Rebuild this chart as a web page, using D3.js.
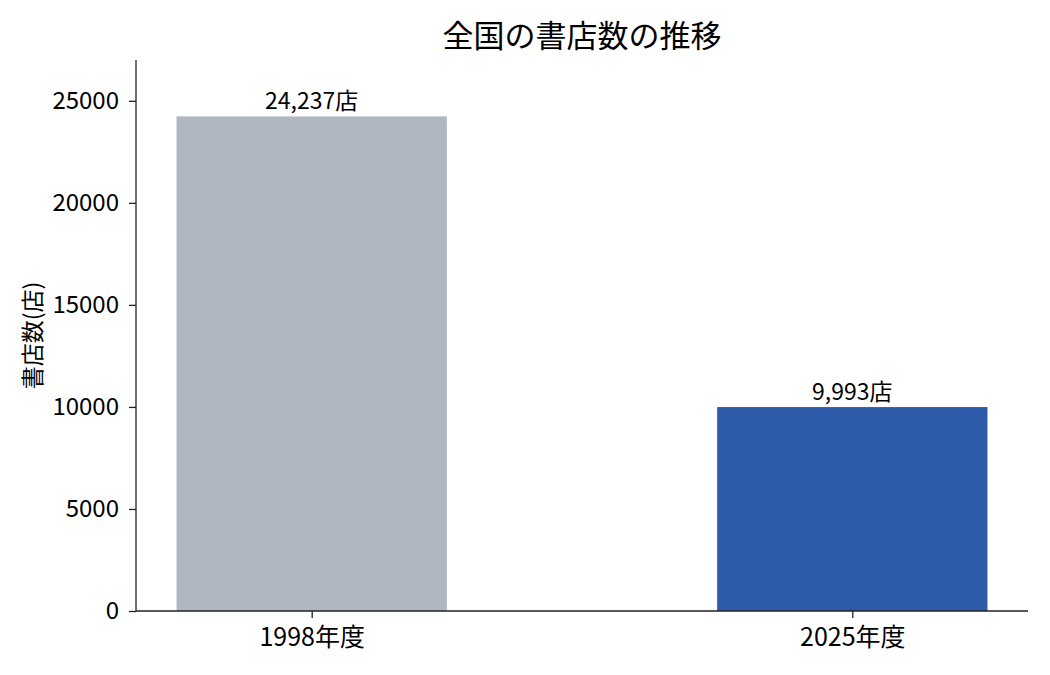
<!DOCTYPE html>
<html>
<head>
<meta charset="utf-8">
<title>全国の書店数の推移</title>
<script src="https://cdn.jsdelivr.net/npm/d3@7"></script>
<style>
body { margin: 0; background: #fff; }
text { font-family: "Noto Sans CJK JP", "Noto Sans", sans-serif; fill: #000; }
.axis path, .axis line { stroke: #222; stroke-width: 1.3px; }
</style>
</head>
<body>
<div id="chart"></div>
<script>
// data
var categories = ["1998年度", "2025年度"];
var values = [24237, 9993];
var barColors = ["#b0b7c1", "#2e5ba9"];
var yTicks = [0, 5000, 10000, 15000, 20000, 25000];

var width = 1050, height = 675;
var margin = {top: 60, right: 22, bottom: 64, left: 136};
var innerW = width - margin.left - margin.right;
var innerH = height - margin.top - margin.bottom;

var svg = d3.select("#chart").append("svg")
	.attr("width", width).attr("height", height);
var g = svg.append("g")
	.attr("transform", "translate(" + margin.left + "," + margin.top + ")");

// category positions like matplotlib: 0,1 with bar width 0.5 and 5% margins
var x = d3.scaleLinear().domain([-0.325, 1.325]).range([0, innerW]);
var y = d3.scaleLinear().domain([0, 27000]).range([innerH, 0]);
var barW = 0.5;

g.selectAll("rect.bar")
	.data(values)
	.enter().append("rect")
	.attr("class", "bar")
	.attr("x", function(d, i) { return x(i - barW / 2); })
	.attr("width", function(d, i) { return x(i + barW / 2) - x(i - barW / 2); })
	.attr("y", function(d) { return y(d); })
	.attr("height", function(d) { return innerH - y(d); })
	.attr("fill", function(d, i) { return barColors[i]; });

g.selectAll("text.val")
	.data(values)
	.enter().append("text")
	.attr("class", "val")
	.attr("x", function(d, i) { return x(i); })
	.attr("y", function(d) { return y(d) - 7; })
	.attr("text-anchor", "middle")
	.style("font-size", "23px")
	.text(function(d) { return d3.format(",")(d) + "店"; });

var yAxis = g.append("g").attr("class", "axis")
	.call(d3.axisLeft(y).tickValues(yTicks).tickSize(7).tickPadding(10).tickFormat(d3.format("d")));
yAxis.selectAll("text").style("font-size", "24px");

var xAxis = g.append("g").attr("class", "axis")
	.attr("transform", "translate(0," + innerH + ")")
	.call(d3.axisBottom(x).tickValues([0, 1]).tickSize(7).tickPadding(10)
		.tickFormat(function(d) { return categories[d]; }));
xAxis.selectAll("text").style("font-size", "25px");

// open frame: only left and bottom spines
yAxis.select(".domain").attr("d", "M0," + innerH + "V0");
xAxis.select(".domain").attr("d", "M0,0H" + innerW);

svg.append("text")
	.attr("x", margin.left + innerW / 2)
	.attr("y", 47)
	.attr("text-anchor", "middle")
	.style("font-size", "31px")
	.text("全国の書店数の推移");

svg.append("text")
	.attr("transform", "translate(41," + (margin.top + innerH / 2) + ") rotate(-90)")
	.attr("text-anchor", "middle")
	.style("font-size", "23px")
	.text("書店数(店)");
</script>
</body>
</html>
